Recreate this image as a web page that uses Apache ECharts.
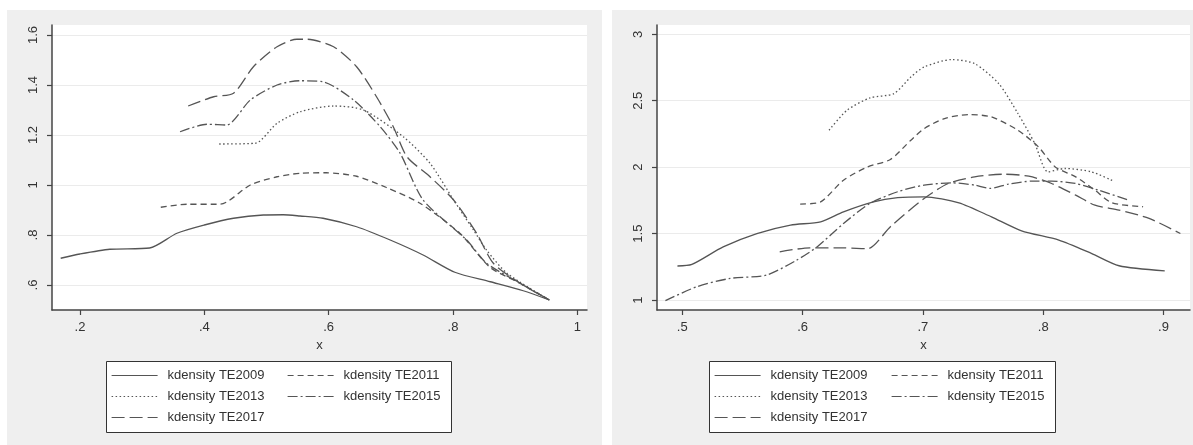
<!DOCTYPE html>
<html>
<head>
<meta charset="utf-8">
<script src="https://cdn.jsdelivr.net/npm/echarts@6/dist/echarts.min.js"></script>
<style>html,body{margin:0;padding:0;background:#fff}#c{width:1193px;height:445px}</style>
</head>
<body>
<div id="c"></div>
<script>
// ---------- data (x, density) ----------
const seriesNames = ['kdensity TE2009','kdensity TE2011','kdensity TE2013','kdensity TE2015','kdensity TE2017'];

// Left panel
const L_TE2009 = [[0.169,0.707],[0.2,0.724],[0.248,0.743],[0.312,0.748],[0.356,0.807],[0.4,0.84],[0.447,0.867],[0.495,0.88],[0.527,0.881],[0.554,0.876],[0.591,0.867],[0.645,0.833],[0.699,0.78],[0.752,0.72],[0.803,0.651],[0.86,0.613],[0.913,0.577],[0.955,0.54]];
const L_TE2011 = [[0.33,0.911],[0.372,0.923],[0.425,0.923],[0.474,1.0],[0.517,1.033],[0.554,1.047],[0.596,1.049],[0.645,1.035],[0.693,0.99],[0.747,0.927],[0.811,0.807],[0.86,0.67],[0.908,0.607],[0.955,0.54]];
const L_TE2013 = [[0.424,1.164],[0.482,1.167],[0.517,1.247],[0.554,1.293],[0.608,1.316],[0.656,1.30],[0.72,1.193],[0.763,1.087],[0.801,0.94],[0.833,0.82],[0.854,0.74],[0.887,0.647],[0.955,0.54]];
const L_TE2015 = [[0.361,1.213],[0.404,1.243],[0.436,1.24],[0.474,1.34],[0.517,1.40],[0.554,1.417],[0.591,1.413],[0.640,1.34],[0.683,1.233],[0.715,1.127],[0.752,0.94],[0.822,0.78],[0.854,0.687],[0.908,0.607],[0.955,0.54]];
const L_TE2017 = [[0.374,1.316],[0.415,1.353],[0.447,1.367],[0.479,1.473],[0.517,1.553],[0.549,1.583],[0.565,1.583],[0.608,1.553],[0.645,1.473],[0.677,1.353],[0.704,1.233],[0.726,1.113],[0.763,1.033],[0.801,0.94],[0.838,0.807],[0.865,0.687],[0.908,0.607],[0.955,0.54]];

// Right panel
const R_TE2009 = [[0.496,1.256],[0.508,1.268],[0.534,1.40],[0.562,1.50],[0.590,1.564],[0.615,1.589],[0.634,1.664],[0.659,1.739],[0.679,1.77],[0.701,1.777],[0.730,1.732],[0.757,1.626],[0.782,1.521],[0.813,1.451],[0.840,1.351],[0.863,1.258],[0.901,1.22]];
const R_TE2011 = [[0.598,1.722],[0.615,1.739],[0.634,1.902],[0.654,2.002],[0.673,2.058],[0.690,2.203],[0.701,2.29],[0.718,2.366],[0.738,2.396],[0.757,2.378],[0.779,2.278],[0.796,2.153],[0.810,2.002],[0.827,1.927],[0.843,1.827],[0.857,1.732],[0.883,1.702]];
const R_TE2013 = [[0.622,2.278],[0.637,2.429],[0.656,2.521],[0.676,2.554],[0.690,2.679],[0.701,2.754],[0.724,2.81],[0.743,2.779],[0.763,2.629],[0.779,2.404],[0.793,2.178],[0.804,1.965],[0.818,1.99],[0.840,1.965],[0.858,1.897]];
const R_TE2015 = [[0.486,0.995],[0.512,1.10],[0.540,1.163],[0.570,1.188],[0.595,1.30],[0.612,1.40],[0.634,1.576],[0.656,1.727],[0.679,1.815],[0.701,1.865],[0.724,1.882],[0.743,1.865],[0.756,1.84],[0.771,1.872],[0.791,1.895],[0.807,1.895],[0.827,1.877],[0.846,1.827],[0.871,1.752]];
const R_TE2017 = [[0.581,1.363],[0.606,1.393],[0.634,1.393],[0.654,1.386],[0.673,1.552],[0.701,1.764],[0.721,1.877],[0.743,1.927],[0.768,1.947],[0.788,1.932],[0.807,1.877],[0.827,1.789],[0.843,1.714],[0.863,1.677],[0.888,1.614],[0.914,1.501]];

// ticks
const L_xTicks = [0.2,0.4,0.6,0.8,1];
const L_yTicks = [0.6,0.8,1,1.2,1.4,1.6];
const R_xTicks = [0.5,0.6,0.7,0.8,0.9];
const R_yTicks = [1,1.5,2,2.5,3];
const L_xRange = [0.155,1.0156];
const L_yRange = [0.5,1.64];
const R_xRange = [0.479,0.922];
const R_yRange = [0.925,3.07];

// ---------- styles ----------
const LINE_COLOR = '#555';
const dashes = [null,[6,4],[1.5,2.5],[10,3,2,3],[13,5]];
const fmt = v => { let s = String(+v.toFixed(2)); return s.replace(/^0\./,'.'); };
const FONT = 'Liberation Sans, Arial, sans-serif';

function xAxis(gi, range, ticks){
  return {
    type:'value', gridIndex:gi, min:range[0], max:range[1],
    name:'x', nameLocation:'middle', nameGap:27,
    nameTextStyle:{color:'#333', fontSize:13, fontFamily:FONT},
    axisLine:{show:true, onZero:false, lineStyle:{color:'#444', width:1.5}},
    axisTick:{show:true, length:5, customValues:ticks, lineStyle:{color:'#444', width:1.2}},
    axisLabel:{customValues:ticks, formatter:fmt, color:'#333', fontSize:13, fontFamily:FONT, margin:11},
    splitLine:{show:false}
  };
}
function yAxis(gi, range, ticks, margin){
  return {
    type:'value', gridIndex:gi, min:range[0], max:range[1],
    axisLine:{show:true, onZero:false, lineStyle:{color:'#444', width:1.5}},
    axisTick:{show:true, length:5, customValues:ticks, lineStyle:{color:'#444', width:1.2}},
    axisLabel:{customValues:ticks, formatter:fmt, rotate:90, color:'#333', fontSize:13, fontFamily:FONT, margin:margin},
    splitLine:{show:true, lineStyle:{color:'#ebebeb', width:1.2}}
  };
}
const leftData = [L_TE2009,L_TE2011,L_TE2013,L_TE2015,L_TE2017];
const rightData = [R_TE2009,R_TE2011,R_TE2013,R_TE2015,R_TE2017];
const series = [];
[leftData,rightData].forEach((set,gi)=>{
  set.forEach((d,i)=>{
    series.push({
      type:'line', name:seriesNames[i], xAxisIndex:gi, yAxisIndex:gi,
      data:d, symbol:'none', smooth:0.25, animation:false,
      lineStyle:{color:LINE_COLOR, width:1.3, type: dashes[i] || 'solid'},
      itemStyle:{color:LINE_COLOR}
    });
  });
});

function legend(left, top, names){
  return {
    orient:'vertical', left:left, top:top, data:names,
    itemWidth:46, itemHeight:14, itemGap:8, selectedMode:false,
    itemStyle:{color:'rgba(0,0,0,0)', opacity:0, borderWidth:0},
    lineStyle:{width:1.2},
    textStyle:{color:'#333', fontSize:13, fontFamily:FONT, padding:[0,0,0,5]},
    padding:0
  };
}
const col1 = [seriesNames[0],seriesNames[2],seriesNames[4]];
const col2 = [seriesNames[1],seriesNames[3]];

const chart = echarts.init(document.getElementById('c'), null, {renderer:'canvas'});
chart.setOption({
  animation:false,
  backgroundColor:'#efefef',
  grid:[
    {left:52, top:25, width:535, height:285, show:true, backgroundColor:'#fff', borderWidth:0},
    {left:657, top:25, width:533, height:285, show:true, backgroundColor:'#fff', borderWidth:0}
  ],
  xAxis:[xAxis(0,L_xRange,L_xTicks), xAxis(1,R_xRange,R_xTicks)],
  yAxis:[yAxis(0,L_yRange,L_yTicks,12), yAxis(1,R_yRange,R_yTicks,12)],
  legend:[
    legend(111,369,col1), legend(287,369,col2),
    legend(714,369,col1), legend(891,369,col2)
  ],
  graphic:[
    {type:'rect', shape:{x:0,y:0,width:1193,height:10}, style:{fill:'#fff'}, silent:true},
    {type:'rect', shape:{x:0,y:0,width:7,height:445}, style:{fill:'#fff'}, silent:true},
    {type:'rect', shape:{x:602,y:0,width:10,height:445}, style:{fill:'#fff'}, silent:true},
    {type:'rect', shape:{x:106.5,y:361.5,width:345,height:71}, style:{fill:'#fff', stroke:'#333', lineWidth:1}, silent:true},
    {type:'rect', shape:{x:709.5,y:361.5,width:346,height:71}, style:{fill:'#fff', stroke:'#333', lineWidth:1}, silent:true}
  ],
  series:series
});
</script>
</body>
</html>
